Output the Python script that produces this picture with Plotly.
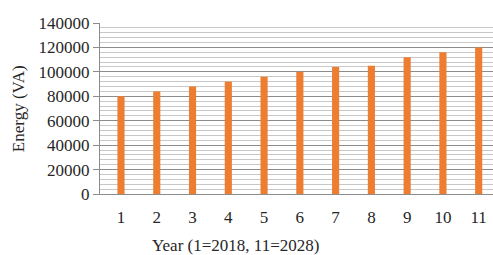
import plotly.graph_objects as go

years = ["1", "2", "3", "4", "5", "6", "7", "8", "9", "10", "11"]
energy = [80000, 84000, 88000, 92000, 96000, 100000, 104000, 105000, 112000, 116000, 120000]
y_ticks = [0, 20000, 40000, 60000, 80000, 100000, 120000, 140000]

FONT = "Liberation Serif"
FS = 17

fig = go.Figure(go.Bar(
    x=years, y=energy, marker=dict(color="#ED7D31", line=dict(width=0)), width=0.2,
))

fig.update_layout(
    width=493, height=255,
    margin=dict(l=100, r=0, t=23, b=61),
    paper_bgcolor="white", plot_bgcolor="white",
    font=dict(family=FONT, size=FS, color="#262626"),
    showlegend=False,
    annotations=[
        dict(text="Year (1=2018, 11=2028)", xref="paper", yref="paper",
             x=0.346, y=-0.30, xanchor="center", yanchor="middle",
             showarrow=False, font=dict(family=FONT, size=FS, color="#262626")),
        dict(text="Energy (VA)", xref="paper", yref="paper",
             x=-0.207, y=0.5, xanchor="center", yanchor="middle", textangle=-90,
             showarrow=False, font=dict(family=FONT, size=FS, color="#262626")),
    ],
)
fig.update_xaxes(
    type="category", range=[-0.587, 10.4],
    showline=True, linecolor="#8c8c8c", linewidth=1,
    showgrid=False, ticks="",
    tickfont=dict(family=FONT, size=FS),
    ticklabelstandoff=8,
)
fig.update_yaxes(
    range=[0, 140000], tickvals=y_ticks, ticktext=[str(v) for v in y_ticks],
    showline=True, linecolor="#8c8c8c", linewidth=1,
    showgrid=True, gridcolor="#8c8c8c", gridwidth=1,
    ticks="outside", ticklen=6, tickcolor="#8c8c8c",
    minor=dict(dtick=4000, tick0=0, showgrid=True, gridcolor="#c8c8c8", gridwidth=1, ticks=""),
    zeroline=False,
    tickfont=dict(family=FONT, size=FS),
)

fig.write_html("out.html", config={"displayModeBar": False},
               post_script="document.body.style.margin='0px';")
